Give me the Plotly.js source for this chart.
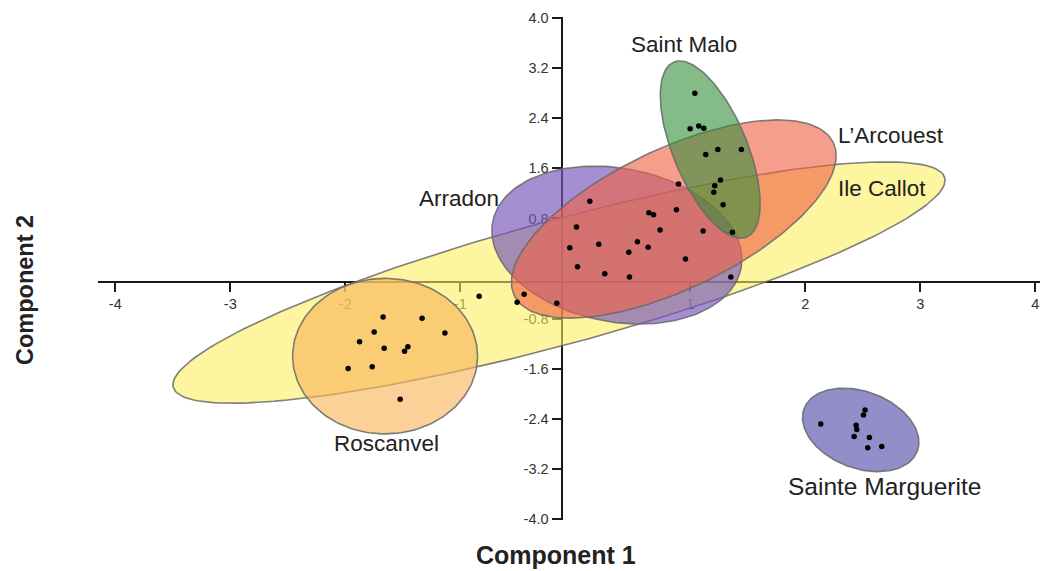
<!DOCTYPE html>
<html>
<head>
<meta charset="utf-8">
<script src="https://cdn.plot.ly/plotly-3.0.1.min.js"></script>
<style>
  html, body { margin: 0; padding: 0; background: #ffffff; }
  #chart { width: 1045px; height: 571px; }
</style>
</head>
<body>
<div id="chart"></div>
<script>
// ---------------- DATA ----------------
// Groups (confidence ellipses), drawn bottom to top
const groupNames = ['Ile Callot', 'Roscanvel', 'Arradon', 'L\u2019Arcouest', 'Saint Malo', 'Sainte Marguerite'];
const ellipseCX    = [-0.142, -1.654, 0.361, 0.856, 1.173, 2.481];
const ellipseCY    = [-0.224, -1.401, 0.375, 0.791, 1.901, -2.580];
const ellipseMajor = [3.475, 0.804, 1.098, 1.538, 0.824, 0.526];   // semi-axis, in Component-1 units
const ellipseMinor = [0.539, 0.676, 0.668, 0.608, 0.322, 0.334];
const ellipseTilt  = [15.2, 0, -10.4, 25.6, 112.6, -20.5];          // degrees, as seen on screen

// Sample scores
const stMaloX = [1.039, 0.998, 1.073, 1.117, 1.134, 1.239, 1.444, 1.262, 1.212, 1.204, 1.285, 1.366];
const stMaloY = [2.800, 2.233, 2.276, 2.240, 1.824, 1.904, 1.904, 1.414, 1.323, 1.217, 1.019, 0.578];

const centralX = [0.897, 0.879, 1.111, 0.639, 0.680, 0.737, 0.540, 0.633, 0.465, 0.958, 1.352, 0.471,
                  0.256, 0.204, 0.126, 0.010, -0.048, 0.019, -0.161, -0.445, -0.506, -0.836];
const centralY = [1.350, 0.939, 0.599, 0.891, 0.860, 0.615, 0.428, 0.339, 0.259, 0.152, -0.136, -0.136,
                  -0.083, 0.387, 1.073, 0.663, 0.333, 0.029, -0.556, -0.412, -0.540, -0.444];

const roscanvelX = [-1.671, -1.332, -1.134, -1.749, -1.876, -1.662, -1.456, -1.485, -1.766, -1.975, -1.523];
const roscanvelY = [-0.775, -0.796, -1.030, -1.014, -1.169, -1.275, -1.249, -1.323, -1.569, -1.600, -2.090];

const margueriteX = [2.134, 2.519, 2.505, 2.441, 2.447, 2.424, 2.557, 2.542, 2.664];
const margueriteY = [-2.484, -2.260, -2.340, -2.505, -2.575, -2.687, -2.703, -2.867, -2.846];

// Axis ticks
const xTickVals = [-4, -3, -2, -1, 1, 2, 3, 4];
const yTickVals = [-4.0, -3.2, -2.4, -1.6, -0.8, 0.8, 1.6, 2.4, 3.2, 4.0];

// ---------------- STYLE ----------------
const fillColors = [
  'rgba(252,238,90,0.58)',
  'rgba(249,182,92,0.63)',
  'rgba(118,84,186,0.66)',
  'rgba(241,98,70,0.62)',
  'rgba(50,142,58,0.60)',
  'rgba(117,114,188,0.80)'
];
const labelPos = {
  'Ile Callot':        [2.664, 1.281],
  'Roscanvel':         [-1.638, -2.793],
  'Arradon':           [-1.013, 1.126],
  'L\u2019Arcouest':   [2.747, 2.133],
  'Saint Malo':        [0.943, 3.586],
  'Sainte Marguerite': [2.687, -3.486]
};
const labelSize = { 'Sainte Marguerite': 24.5 };

const xRange = [-4.15, 4.04];
const yRange = [-4.02, 4.02];
const xCross = -0.12;   // where the vertical axis line sits
const yCross = -0.21;   // where the horizontal axis line sits
const M = { l: 98, r: 5, t: 17, b: 51 };
const W = 1045, H = 571;
const pxPerX = (W - M.l - M.r) / (xRange[1] - xRange[0]);
const pxPerY = (H - M.t - M.b) / (yRange[1] - yRange[0]);
const yPerX = pxPerX / pxPerY;

function ellipsePath(cx, cy, a, b, deg) {
  const phi = deg * Math.PI / 180;
  const xs = [], ys = [];
  const n = 180;
  for (let i = 0; i <= n; i++) {
    const t = 2 * Math.PI * i / n;
    const dx = a * Math.cos(t) * Math.cos(phi) - b * Math.sin(t) * Math.sin(phi);
    const dy = a * Math.cos(t) * Math.sin(phi) + b * Math.sin(t) * Math.cos(phi);
    xs.push(cx + dx);
    ys.push(cy + dy * yPerX);
  }
  return { xs, ys };
}

const traces = [];
groupNames.forEach((g, i) => {
  const p = ellipsePath(ellipseCX[i], ellipseCY[i], ellipseMajor[i], ellipseMinor[i], ellipseTilt[i]);
  traces.push({
    type: 'scatter', mode: 'lines', x: p.xs, y: p.ys, name: g,
    fill: 'toself', fillcolor: fillColors[i],
    line: { color: 'rgba(105,105,105,0.85)', width: 1.6 },
    hoverinfo: 'skip', showlegend: false
  });
});

const dotStyle = { color: '#000000', size: 5.5 };
[[stMaloX, stMaloY], [centralX, centralY], [roscanvelX, roscanvelY], [margueriteX, margueriteY]].forEach(([xs, ys]) => {
  traces.push({ type: 'scatter', mode: 'markers', x: xs, y: ys, marker: dotStyle, hoverinfo: 'skip', showlegend: false });
});

const font = 'Liberation Sans, Arial, Helvetica, sans-serif';
const annotations = groupNames.map(g => ({
  x: labelPos[g][0], y: labelPos[g][1], xref: 'x', yref: 'y',
  text: g, showarrow: false, xanchor: 'center', yanchor: 'middle',
  font: { family: font, size: labelSize[g] || 22.5, color: '#222222' }
}));
annotations.push({
  xref: 'paper', yref: 'paper', x: (556 - M.l) / (W - M.l - M.r), y: -(555 - (H - M.b)) / (H - M.t - M.b),
  text: '<b>Component 1</b>', showarrow: false, xanchor: 'center', yanchor: 'middle',
  font: { family: font, size: 25, color: '#222222' }
});
annotations.push({
  xref: 'paper', yref: 'paper', x: -(M.l - 25) / (W - M.l - M.r), y: (H - M.b - 290) / (H - M.t - M.b),
  text: '<b>Component 2</b>', showarrow: false, xanchor: 'center', yanchor: 'middle', textangle: -90,
  font: { family: font, size: 23.5, color: '#222222' }
});

const axisCommon = {
  showgrid: false, zeroline: false, showline: true, linecolor: '#1a1a1a', linewidth: 2,
  ticks: 'outside', ticklen: 9, tickwidth: 2, tickcolor: '#1a1a1a',
  tickfont: { family: font, size: 14.5, color: '#333333' },
  layer: 'below traces', fixedrange: true
};

const layout = {
  width: W, height: H, margin: M,
  paper_bgcolor: '#ffffff', plot_bgcolor: '#ffffff',
  showlegend: false,
  xaxis: Object.assign({}, axisCommon, {
    range: xRange, tickmode: 'array', tickvals: xTickVals, ticktext: xTickVals.map(v => String(v)),
    anchor: 'free', position: (yCross - yRange[0]) / (yRange[1] - yRange[0])
  }),
  yaxis: Object.assign({}, axisCommon, {
    range: yRange, tickmode: 'array', tickvals: yTickVals, ticktext: yTickVals.map(v => v.toFixed(1)),
    anchor: 'free', position: (xCross - xRange[0]) / (xRange[1] - xRange[0])
  }),
  annotations: annotations
};

Plotly.newPlot('chart', traces, layout, { displayModeBar: false, staticPlot: true });
</script>
</body>
</html>
